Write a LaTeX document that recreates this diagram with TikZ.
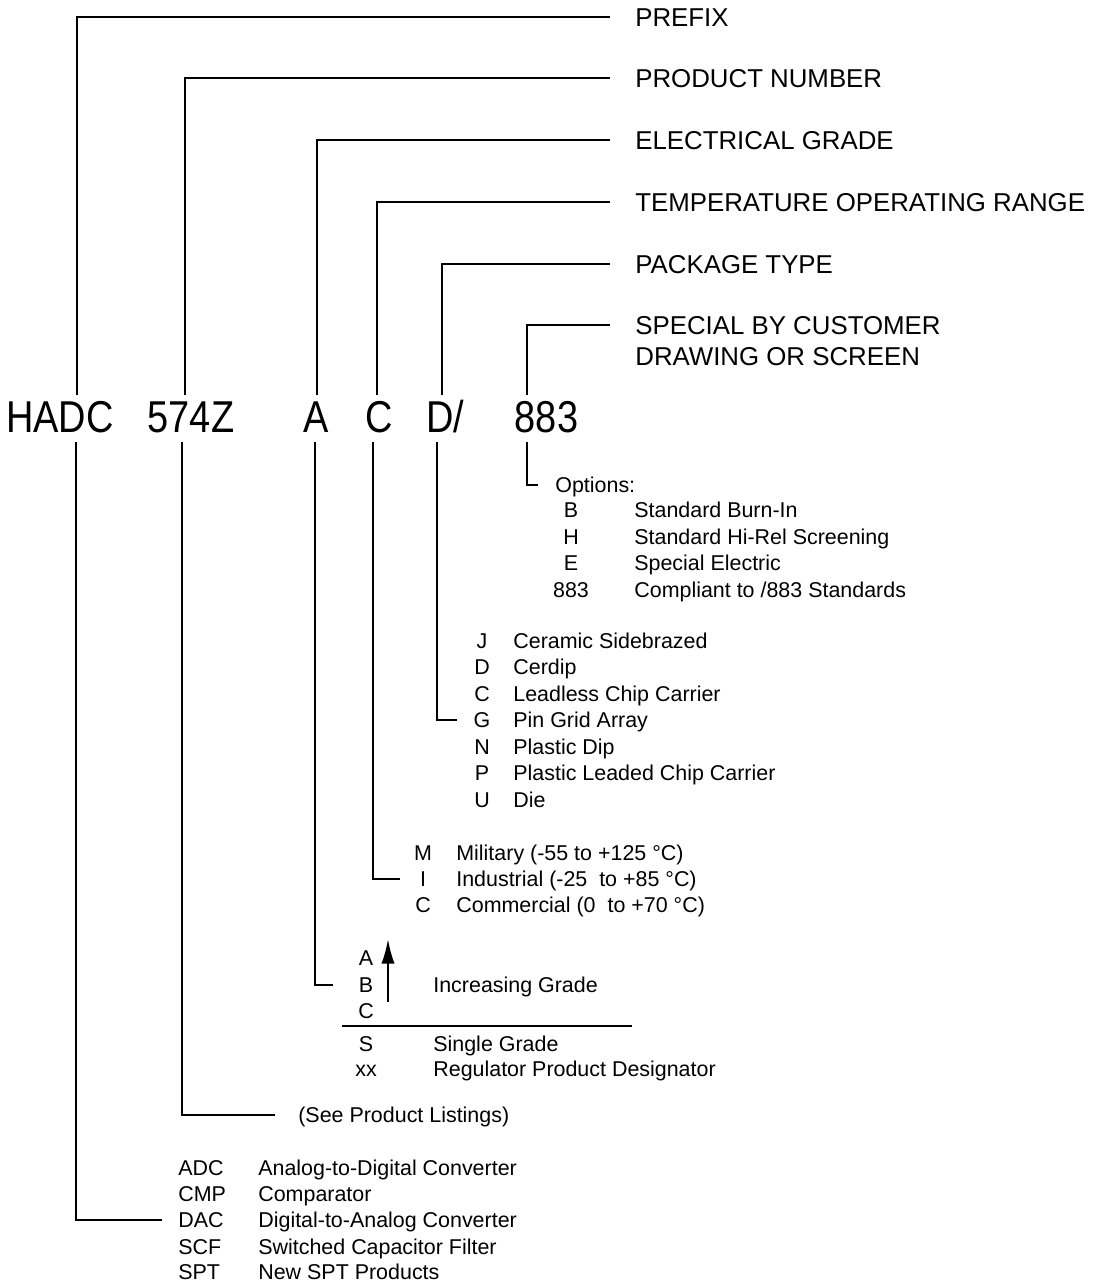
\documentclass[tikz,border=0pt]{standalone}
\usepackage{fontspec}
\setmainfont{Liberation Sans}
\newfontfamily\estrecha[FakeStretch=0.85]{Liberation Sans}
\usetikzlibrary{arrows.meta, positioning, calc}
\tikzset{
  codigo/.style={inner sep=0pt, anchor=base, font=\estrecha\fontsize{25.4}{30}\selectfont,
    text height=18.2pt, text depth=0pt},
  etiqueta/.style={anchor=west, inner sep=0pt, font=\fontsize{14.7}{17.6}\selectfont,
    text height=10.5pt, text depth=0pt},
  etiquetados/.style={anchor=north west, inner sep=0pt, align=left,
    font=\fontsize{14.7}{17.6}\selectfont},
  letra/.style={inner sep=0pt, font=\fontsize{12.2}{15}\selectfont,
    text height=8.7pt, text depth=0pt},
  texto/.style={letra, anchor=west},
  linea/.style={line width=1pt},
  flecha/.style={line width=1.2pt, -{Latex[length=14pt, width=7.5pt]}}
}

\begin{document}
\begin{tikzpicture}[x=0.02cm, y=-0.02cm]
  \useasboundingbox (0,0) rectangle (1099,1284);

  % --- Codigo ---
  \node[codigo] (hadc) at (60,432) {HADC};
  \node[codigo] (num) at (191,432) {574Z};
  \node[codigo] (grado) at (316.5,432) {A};
  \node[codigo] (temp) at (379,432) {C};
  \node[codigo] (paq) at (445.5,432) {D/};
  \node[codigo] (esp) at (546.5,432) {883};

  % --- Etiquetas ---
  \node[etiqueta] (prefijo) at (635,17) {PREFIX};
  \node[etiqueta] (producto) at (635,78) {PRODUCT NUMBER};
  \node[etiqueta] (electrico) at (635,140) {ELECTRICAL GRADE};
  \node[etiqueta] (rango) at (635,202) {TEMPERATURE OPERATING RANGE};
  \node[etiqueta] (tipo) at (635,264) {PACKAGE TYPE};
  \node[etiquetados] (especial) at (635,316)
    {SPECIAL BY CUSTOMER\\DRAWING OR SCREEN};

  \draw[linea] ($(hadc.north)+(17,-5)$) |- ($(prefijo.west)+(-25,0)$);
  \draw[linea] ($(num.north)+(-6,-5)$) |- ($(producto.west)+(-25,0)$);
  \draw[linea] ($(grado.north)+(0.5,-5)$) |- ($(electrico.west)+(-25,0)$);
  \draw[linea] ($(temp.north)+(-2,-5)$) |- ($(rango.west)+(-25,0)$);
  \draw[linea] ($(paq.north)+(-3.5,-5)$) |- ($(tipo.west)+(-25,0)$);
  \draw[linea] ($(esp.north)+(-19.5,-5)$) |- ($(especial.north west)+(-25,9)$);

  % --- Opciones ---
  \node[texto] (opciones) at (555,485) {Options:};
  \node[letra] (opB) at (571,510) {B};
  \node[letra] (opH) at (571,537) {H};
  \node[letra] (opE) at (571,563) {E};
  \node[letra] (op883) at (571,590) {883};
  \node[texto] (opBt) at (634,510) {Standard Burn-In};
  \node[texto] (opHt) at (634,537) {Standard Hi-Rel Screening};
  \node[texto] (opEt) at (634,563) {Special Electric};
  \node[texto] (op883t) at (634,590) {Compliant to /883 Standards};
  \draw[linea] ($(esp.south)+(-19.5,10)$) |- ($(opciones.west)+(-17,0)$);

  % --- Encapsulado ---
  \node[letra] (pqJ) at (482,641) {J};
  \node[letra] (pqD) at (482,667) {D};
  \node[letra] (pqC) at (482,694) {C};
  \node[letra] (pqG) at (482,720) {G};
  \node[letra] (pqN) at (482,747) {N};
  \node[letra] (pqP) at (482,773) {P};
  \node[letra] (pqU) at (482,800) {U};
  \node[texto] (pqJt) at (513,641) {Ceramic Sidebrazed};
  \node[texto] (pqDt) at (513,667) {Cerdip};
  \node[texto] (pqCt) at (513,694) {Leadless Chip Carrier};
  \node[texto] (pqGt) at (513,720) {Pin Grid Array};
  \node[texto] (pqNt) at (513,747) {Plastic Dip};
  \node[texto] (pqPt) at (513,773) {Plastic Leaded Chip Carrier};
  \node[texto] (pqUt) at (513,800) {Die};
  \draw[linea] ($(paq.south)+(-8.5,10)$) |- ($(pqG)+(-25,0)$);

  % --- Temperatura ---
  \node[letra] (tM) at (423,853) {M};
  \node[letra] (tI) at (423,879) {I};
  \node[letra] (tC) at (423,905) {C};
  \node[texto] (tMt) at (456,853) {Military (-55 to +125 °C)};
  \node[texto] (tIt) at (456,879) {Industrial (-25\ \ to +85 °C)};
  \node[texto] (tCt) at (456,905) {Commercial (0\ \ to +70 °C)};
  \draw[linea] ($(temp.south)+(-6,10)$) |- ($(tI)+(-23,0)$);

  % --- Grado ---
  \node[letra] (gA) at (366,958) {A};
  \node[letra] (gB) at (366,985) {B};
  \node[letra] (gC) at (366,1011) {C};
  \node[letra] (gS) at (366,1044) {S};
  \node[letra] (gxx) at (366,1069) {xx};
  \node[texto] (gBt) at (433,985) {Increasing Grade};
  \node[texto] (gSt) at (433,1044) {Single Grade};
  \node[texto] (gxxt) at (433,1069) {Regulator Product Designator};
  \draw[flecha] (388,1002) -- (388,939);
  \draw[linea] (342,1026) -- (632,1026);
  \draw[linea] ($(grado.south)+(-1.5,10)$) |- ($(gB)+(-33,0)$);

  % --- Numero ---
  \node[texto] (listados) at (298,1115) {(See Product Listings)};
  \draw[linea] ($(num.south)+(-9,10)$) |- ($(listados.west)+(-23,0)$);

  % --- Prefijo ---
  \node[texto] (adc) at (178,1168) {ADC};
  \node[texto] (cmp) at (178,1194) {CMP};
  \node[texto] (dac) at (178,1220) {DAC};
  \node[texto] (scf) at (178,1247) {SCF};
  \node[texto] (spt) at (178,1272) {SPT};
  \node[texto] (adct) at (258,1168) {Analog-to-Digital Converter};
  \node[texto] (cmpt) at (258,1194) {Comparator};
  \node[texto] (dact) at (258,1220) {Digital-to-Analog Converter};
  \node[texto] (scft) at (258,1247) {Switched Capacitor Filter};
  \node[texto] (sptt) at (258,1272) {New SPT Products};
  \draw[linea] ($(hadc.south)+(16,10)$) |- ($(dac.west)+(-16,0)$);

\end{tikzpicture}
\end{document}
